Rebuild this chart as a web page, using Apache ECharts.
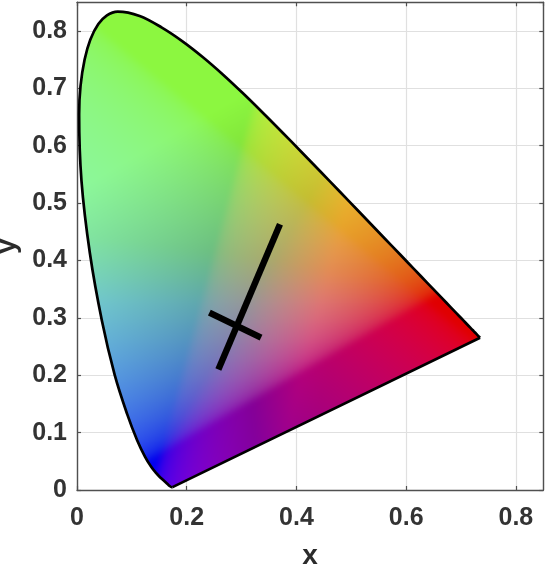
<!DOCTYPE html>
<html><head><meta charset="utf-8">
<script src="https://cdn.jsdelivr.net/npm/echarts@6/dist/echarts.min.js"></script>
<style>html,body{margin:0;padding:0;background:#fff}#c{width:546px;height:565px}</style></head>
<body><div id="c"></div>
<script>
const locusX=[.1741,.1738,.1733,.1726,.1714,.1689,.1644,.1566,.1510,.1440,.1355,.1241,.1096,.0913,.0687,.0454,.0235,.0082,.0039,.0139,.0389,.0743,.1142,.1547,.1929,.2296,.2658,.3016,.3373,.3731,.4087,.4441,.4788,.5125,.5448,.5752,.6029,.6270,.6482,.6658,.6801,.6915,.7006,.7079,.7140,.7190,.7230,.7260,.7300,.7334,.7347];
const locusY=[.0050,.0049,.0048,.0048,.0051,.0069,.0109,.0177,.0227,.0297,.0399,.0578,.0868,.1327,.2007,.2950,.4127,.5384,.6548,.7502,.8120,.8338,.8262,.8059,.7816,.7543,.7243,.6923,.6589,.6245,.5896,.5547,.5202,.4866,.4544,.4242,.3965,.3725,.3514,.3340,.3197,.3083,.2993,.2920,.2859,.2809,.2770,.2740,.2700,.2666,.2653];
const longAxisX=[.2577,.370];
const longAxisY=[.210,.463];
const shortAxisX=[.2413,.3355];
const shortAxisY=[.309,.2655];
const xTicks=[0,.2,.4,.6,.8];
const yTicks=[0,.1,.2,.3,.4,.5,.6,.7,.8];

const poly=locusX.map((x,i)=>[x,locusY[i]]);
function gam(v){v=Math.max(0,Math.min(1,v));return v<=.0031308?12.92*v:1.055*Math.pow(v,1/2.4)-.055;}
function chroma(x,y){const X=x,Y=y,Z=1-x-y;
 const R=gam(3.2406*X-1.5372*Y-.4986*Z),G=gam(-.9689*X+1.8758*Y+.0415*Z),B=gam(.0557*X-.2040*Y+1.0570*Z);
 const m=Math.min(R,B),w=(1-G)*(1-G),d=Math.max(0,G-B);
 const r=Math.min(.96*R,.88)+.1*R*G*G*G+.55*Math.max(0,G-R)-.55*Math.pow(m,2.5)*R*w;
 const g=G*.97;
 const b=B+.25*d-.2*B*Math.min(1,d/.2)-.3*m*R*w;
 return [r,g,b].map(v=>Math.round(255*Math.max(0,Math.min(1,v))));}
// colour field as an offscreen image, softened, then masked to the locus outline
const xMax=.75,yMax=.85,W=900,H=1000;
function fieldImage(){
 const raw=document.createElement('canvas');raw.width=W;raw.height=H;
 const rc=raw.getContext('2d'),img=rc.createImageData(W,H);
 for(let j=0;j<H;j++)for(let i=0;i<W;i++){
  const c=chroma((i+.5)/W*xMax,(1-(j+.5)/H)*yMax),k=(j*W+i)*4;
  img.data[k]=c[0];img.data[k+1]=c[1];img.data[k+2]=c[2];img.data[k+3]=255;}
 rc.putImageData(img,0,0);
 const src=document.createElement('canvas');src.width=W;src.height=H;
 const ctx=src.getContext('2d');
 ctx.drawImage(raw,0,0);            // edge backing for the blur
 ctx.filter='blur(7px)';ctx.drawImage(raw,0,0);ctx.filter='none';
 ctx.globalCompositeOperation='destination-in';ctx.beginPath();
 const px=p=>[p[0]/xMax*W,(1-p[1]/yMax)*H];
 ctx.moveTo(...px(poly[0]));
 for(let i=0;i<poly.length-1;i++){ // smooth outline through the locus points
  const a=poly[Math.max(0,i-1)],b=poly[i],c=poly[i+1],d=poly[Math.min(poly.length-1,i+2)];
  const c1=[b[0]+(c[0]-a[0])/6,b[1]+(c[1]-a[1])/6],c2=[c[0]-(d[0]-b[0])/6,c[1]-(d[1]-b[1])/6];
  ctx.bezierCurveTo(...px(c1),...px(c2),...px(c));}
 ctx.closePath();ctx.fill();
 return src;}
const field=fieldImage();

const tickFmt=v=>v===0?'0':(xTicks.concat(yTicks).some(t=>Math.abs(t-v)<1e-6)?v.toFixed(1):'');
const lab={fontFamily:'Liberation Sans',fontWeight:'bold',fontSize:25,color:'#333'};
const line={show:true,lineStyle:{color:'#505050',width:1.4}};
const nameStyle={fontFamily:'Liberation Sans',fontWeight:'bold',fontSize:28,color:'#2b2b2b'};
function xa(pos,show){return {type:'value',position:pos,min:0,max:.85,interval:.2,axisLine:{...line,onZero:false},
 axisTick:{show:true,inside:true,length:4,lineStyle:{color:'#505050',width:1.2}},
 axisLabel:{show:show,...lab,margin:16,formatter:tickFmt,showMaxLabel:false},
 splitLine:{show:show,lineStyle:{color:'#e0e0e0',width:1.2}},
 name:show?'x':'',nameLocation:'middle',nameGap:52,nameTextStyle:nameStyle};}
function ya(pos,show){return {type:'value',position:pos,min:0,max:.85,interval:.1,axisLine:{...line,onZero:false},
 axisTick:{show:true,inside:true,length:4,lineStyle:{color:'#505050',width:1.2}},
 axisLabel:{show:show,...lab,margin:10,formatter:tickFmt,showMaxLabel:false},
 splitLine:{show:show,lineStyle:{color:'#e0e0e0',width:1.2}},
 name:show?'y':'',nameLocation:'middle',nameGap:49,nameTextStyle:nameStyle};}
const chart=echarts.init(document.getElementById('c'),null,{renderer:'canvas'});
chart.setOption({animation:false,backgroundColor:'#fff',
 grid:{left:77,right:2.7,top:2.3,bottom:75,outerBoundsMode:'none'},
 xAxis:[xa('bottom',true),xa('top',false)],yAxis:[ya('left',true),ya('right',false)],
 series:[
 {type:'custom',silent:true,clip:true,z:2,data:[[0,0,xMax,yMax]],encode:{x:[0,2],y:[1,3]},
  renderItem:(p,api)=>{const a=api.coord([api.value(0),api.value(1)]),b=api.coord([api.value(2),api.value(3)]);
   return {type:'image',style:{image:field,x:a[0],y:b[1],width:b[0]-a[0],height:a[1]-b[1]}};}},
 {type:'line',z:3,silent:true,symbol:'none',smooth:.35,data:poly,lineStyle:{color:'#000',width:2.7,join:'round'}},
 {type:'line',z:3,silent:true,symbol:'none',data:[poly[poly.length-1],poly[0]],lineStyle:{color:'#000',width:2.7}},
 {type:'line',z:4,silent:true,symbol:'none',data:longAxisX.map((x,i)=>[x,longAxisY[i]]),lineStyle:{color:'#000',width:6.4,cap:'butt'}},
 {type:'line',z:4,silent:true,symbol:'none',data:shortAxisX.map((x,i)=>[x,shortAxisY[i]]),lineStyle:{color:'#000',width:6.4,cap:'butt'}}
 ]});
</script></body></html>
